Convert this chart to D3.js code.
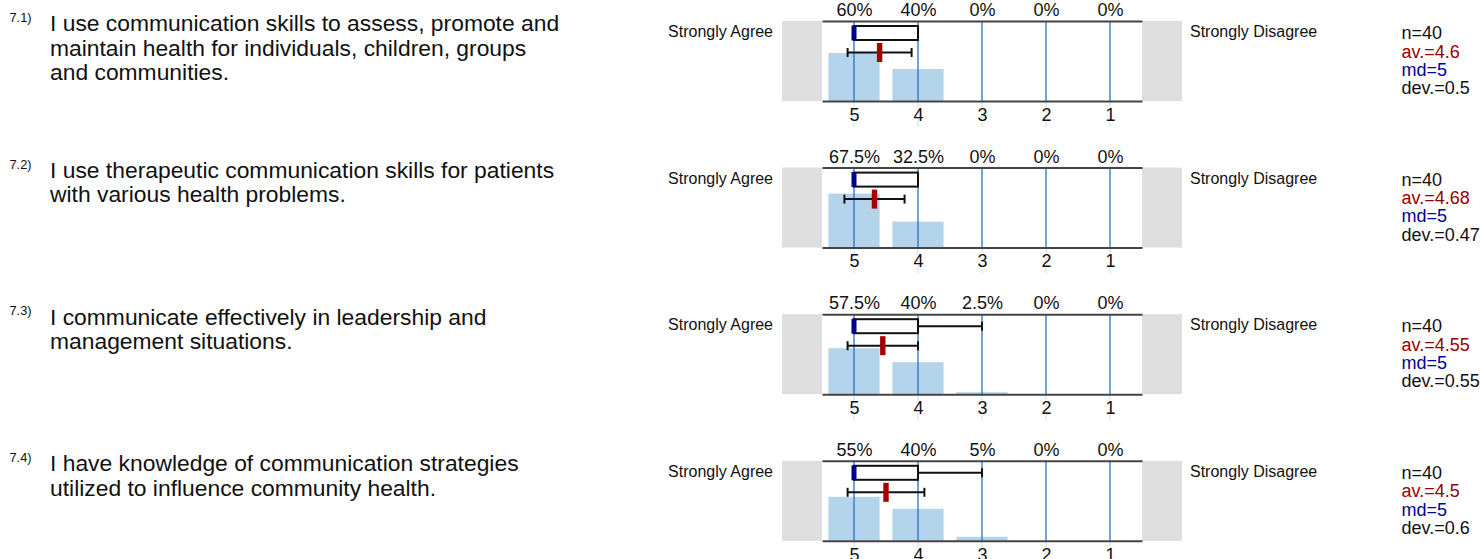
<!DOCTYPE html>
<html>
<head>
<meta charset="utf-8">
<script src="https://cdn.jsdelivr.net/npm/d3@7"></script>
<style>
  body { margin: 0; background: #fff; }
  svg { display: block; font-family: "Liberation Sans", Arial, sans-serif; }
</style>
</head>
<body>
<script>
// Survey items
let itemNumbers = ['7.1)', '7.2)', '7.3)', '7.4)']
let questions = [
  ['I use communication skills to assess, promote and', 'maintain health for individuals, children, groups', 'and communities.'],
  ['I use therapeutic communication skills for patients', 'with various health problems.'],
  ['I communicate effectively in leadership and', 'management situations.'],
  ['I have knowledge of communication strategies', 'utilized to influence community health.']
]

// answer scale, left to right
let scaleValues = [5, 4, 3, 2, 1]
let leftPole = 'Strongly Agree'
let rightPole = 'Strongly Disagree'

// share of answers per scale value (%)
let percents = [
  [60, 40, 0, 0, 0],
  [67.5, 32.5, 0, 0, 0],
  [57.5, 40, 2.5, 0, 0],
  [55, 40, 5, 0, 0]
]

// statistics
let counts = [40, 40, 40, 40]
let means = [4.6, 4.68, 4.55, 4.5]
let medians = [5, 5, 5, 5]
let deviations = [0.5, 0.47, 0.55, 0.6]
let quartileLow = [4, 4, 4, 4]
let quartileHigh = [5, 5, 5, 5]
let minimums = [4, 4, 3, 3]

let width = 1481
let height = 559
let rowTop = 21
let rowStep = 146.6
let plotH = 80

let svg = d3.select('body')
  .append('svg')
  .attr('width', width)
  .attr('height', height)

let x = d3.scaleLinear()
          .domain([5.5, 0.5])
          .range([822, 1142])

let y = d3.scaleLinear()
          .domain([0, 100])
          .range([plotH, 0])

let step = x(4) - x(5)
let barW = step * 0.8

questions.forEach((lines, i) => {
  let g = svg.append('g')
    .attr('transform', `translate(0, ${rowTop + i * rowStep})`)

  // question text
  g.append('text')
    .attr('x', 9.5)
    .attr('y', 1)
    .style('font-size', '12.8px')
    .style('fill', '#111')
    .text(itemNumbers[i])

  let q = g.append('text')
    .attr('x', 50)
    .attr('y', 10.3)
    .style('font-size', '22.85px')
    .style('fill', '#111')
  q.selectAll('tspan')
    .data(lines)
    .enter()
    .append('tspan')
    .attr('x', 50)
    .attr('dy', (d, j) => j === 0 ? 0 : 24.5)
    .text(d => d)

  // pole labels
  g.append('text')
    .attr('x', 773)
    .attr('y', 16)
    .attr('text-anchor', 'end')
    .style('font-size', '16px')
    .style('fill', '#111')
    .text(leftPole)

  g.append('text')
    .attr('x', 1190)
    .attr('y', 16)
    .style('font-size', '16px')
    .style('fill', '#111')
    .text(rightPole)

  // grey side boxes
  g.append('rect')
    .attr('x', 782).attr('y', 0)
    .attr('width', x(5.5) - 782).attr('height', plotH)
    .style('fill', '#dedede')
  g.append('rect')
    .attr('x', x(0.5)).attr('y', 0)
    .attr('width', 1182 - x(0.5)).attr('height', plotH)
    .style('fill', '#dedede')

  // bars
  g.selectAll('rect.bar')
    .data(scaleValues)
    .enter()
    .append('rect')
    .attr('class', 'bar')
    .attr('x', v => x(v) - barW / 2)
    .attr('y', (v, j) => y(percents[i][j]))
    .attr('width', barW)
    .attr('height', (v, j) => y(0) - y(percents[i][j]))
    .style('fill', '#b4d4eb')

  // faint ticks under the axis
  g.selectAll('line.faint')
    .data(scaleValues)
    .enter()
    .append('line')
    .attr('class', 'faint')
    .attr('x1', v => x(v)).attr('x2', v => x(v))
    .attr('y1', plotH).attr('y2', plotH + 26)
    .style('stroke', '#dbe9f5')
    .style('stroke-width', 1.5)

  // vertical lines
  g.selectAll('line.grid')
    .data(scaleValues)
    .enter()
    .append('line')
    .attr('class', 'grid')
    .attr('x1', v => x(v)).attr('x2', v => x(v))
    .attr('y1', 0).attr('y2', plotH)
    .style('stroke', '#2c72b8')
    .style('stroke-width', 1.3)

  // top axis with percents
  let top = g.append('g')
    .call(d3.axisTop(x)
      .tickValues(scaleValues)
      .tickSize(0)
      .tickPadding(5)
      .tickFormat((v, j) => percents[i][j] + '%'))
  top.select('.domain').style('stroke', '#444').style('stroke-width', 2)
  top.selectAll('text').style('font-size', '18px').style('fill', '#111')
    .style('font-family', '"Liberation Sans", Arial, sans-serif')

  // bottom axis with scale values
  let bottom = g.append('g')
    .attr('transform', `translate(0, ${plotH})`)
    .call(d3.axisBottom(x)
      .tickValues(scaleValues)
      .tickSize(0)
      .tickPadding(7)
      .tickFormat(d3.format('d')))
  bottom.select('.domain').style('stroke', '#444').style('stroke-width', 2)
  bottom.selectAll('text').style('font-size', '18px').style('fill', '#111')
    .style('font-family', '"Liberation Sans", Arial, sans-serif')
    .style('paint-order', 'stroke')
    .style('stroke', '#fff')
    .style('stroke-width', 2)

  // box plot
  let boxY = 12
  let capH = 9
  if (minimums[i] < quartileLow[i]) {
    g.append('line')
      .attr('x1', x(quartileLow[i])).attr('x2', x(minimums[i]))
      .attr('y1', boxY).attr('y2', boxY)
      .style('stroke', '#111').style('stroke-width', 2)
    g.append('line')
      .attr('x1', x(minimums[i])).attr('x2', x(minimums[i]))
      .attr('y1', boxY - capH / 2).attr('y2', boxY + capH / 2)
      .style('stroke', '#111').style('stroke-width', 2)
  }
  g.append('rect')
    .attr('x', x(quartileHigh[i]))
    .attr('y', 5)
    .attr('width', x(quartileLow[i]) - x(quartileHigh[i]))
    .attr('height', 14)
    .style('fill', '#fff')
    .style('stroke', '#111')
    .style('stroke-width', 2)
  g.append('rect')
    .attr('x', x(medians[i]) - 2.5)
    .attr('y', 4.5)
    .attr('width', 5)
    .attr('height', 15)
    .style('fill', '#00008b')

  // mean +/- deviation
  let mY = 31.5
  let lo = means[i] - deviations[i]
  let hi = means[i] + deviations[i]
  g.append('line')
    .attr('x1', x(hi)).attr('x2', x(lo))
    .attr('y1', mY).attr('y2', mY)
    .style('stroke', '#111').style('stroke-width', 2)
  g.selectAll('line.cap')
    .data([lo, hi])
    .enter()
    .append('line')
    .attr('class', 'cap')
    .attr('x1', d => x(d)).attr('x2', d => x(d))
    .attr('y1', mY - capH / 2).attr('y2', mY + capH / 2)
    .style('stroke', '#111').style('stroke-width', 2)
  g.append('rect')
    .attr('x', x(means[i]) - 2.7)
    .attr('y', mY - 9.5)
    .attr('width', 5.4)
    .attr('height', 19)
    .style('fill', '#a50000')

  // statistics text
  let stats = [
    {t: 'n=' + counts[i], c: '#111'},
    {t: 'av.=' + means[i], c: '#990000'},
    {t: 'md=' + medians[i], c: '#000099'},
    {t: 'dev.=' + deviations[i], c: '#111'}
  ]
  g.selectAll('text.stat')
    .data(stats)
    .enter()
    .append('text')
    .attr('class', 'stat')
    .attr('x', 1401.5)
    .attr('y', (d, j) => 18.3 + j * 18.3)
    .style('font-size', '18px')
    .style('fill', d => d.c)
    .text(d => d.t)
})
</script>
</body>
</html>
